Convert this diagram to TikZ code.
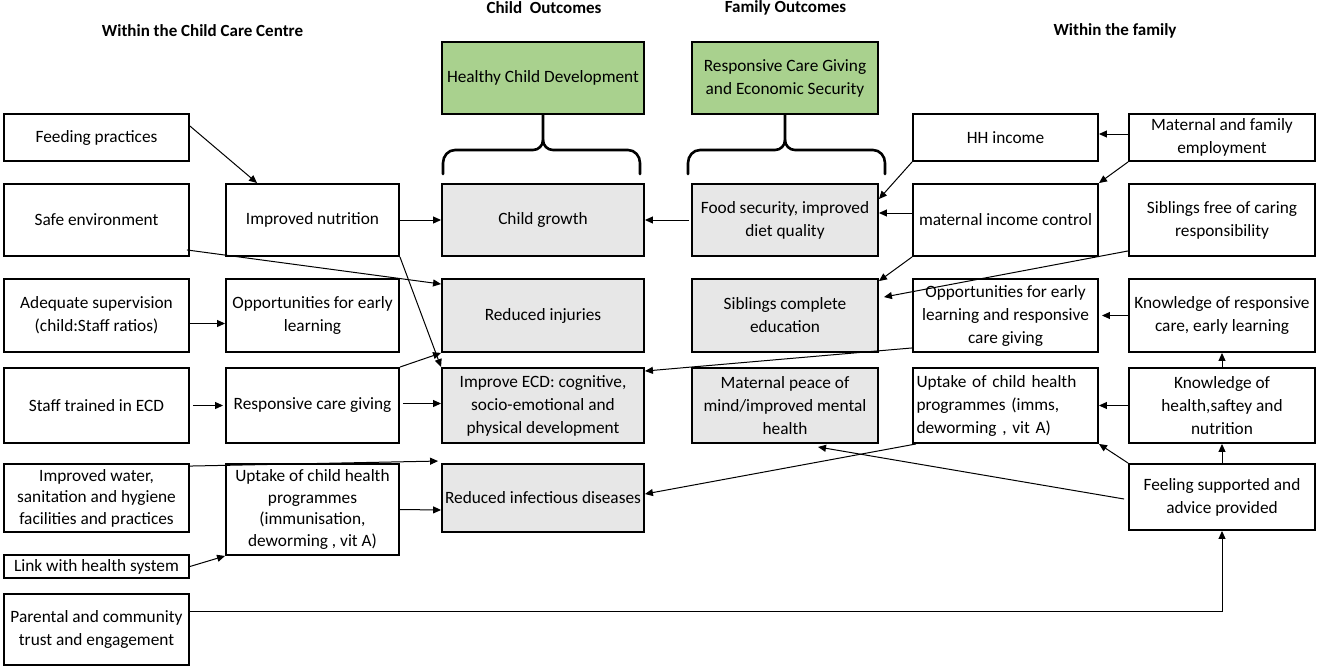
\documentclass[tikz,border=0pt]{standalone}
\usepackage{fontspec}
\setmainfont{Carlito}
\usetikzlibrary{arrows.meta,calc}
\definecolor{gfill}{RGB}{169,209,142}
\definecolor{gryfill}{RGB}{231,231,231}
\begin{document}
\begin{tikzpicture}[x=1pt,y=-1pt,
  box/.style={draw, line width=1.9pt, inner sep=1pt, align=center, font=\fontsize{17.3}{23}\selectfont},
  tight/.style={font=\fontsize{17.3}{21.5}\selectfont},
  gbox/.style={box, fill=gryfill},
  grn/.style={box, fill=gfill},
  wh/.style 2 args={minimum width=#1pt, minimum height=#2pt},
  arr/.style={-{Triangle[length=8pt,width=7pt]}, line width=1pt},
  hdr/.style={font=\bfseries\fontsize{17}{20}\selectfont},
  brc/.style={line width=2.6pt, line cap=round}]
\useasboundingbox (0,0) rectangle (1325,667);
\fill[white] (0,0) rectangle (1325,667);

% headers
\node[hdr] (h1) at (202.5,31) {Within the Child Care Centre};
\node[hdr] (h2) at (544,8) {Child\ \ Outcomes};
\node[hdr] (h3) at (785.5,8) {Family Outcomes};
\node[hdr] (h4) at (1115,31) {Within the family};

% column 1
\node[box,wh={185}{47}] (fp) at (96.5,137.5) {Feeding practices};
\node[box,wh={185}{72}] (se) at (96.5,220) {Safe environment};
\node[box,wh={185}{73}] (as) at (96.5,315.5) {Adequate supervision\\(child:Staff ratios)};
\node[box,wh={185}{75}] (st) at (96.5,405.5) {Staff trained in ECD};
\node[box,tight,wh={185}{68}] (iw) at (96.5,498) {Improved water,\\sanitation and hygiene\\facilities and practices};
\node[box,wh={185}{23}] (lk) at (96.5,566.5) {Link with health system};
\node[box,wh={185}{71}] (pc) at (96.5,629.5) {Parental and community\\trust and engagement};

% column 2
\node[box,wh={173}{72}] (nut) at (312.5,220) {Improved nutrition};
\node[box,wh={173}{73}] (ol) at (312.5,315.5) {Opportunities for early\\learning};
\node[box,wh={173}{75}] (rcg) at (312.5,405.5) {Responsive care giving};
\node[box,tight,wh={173}{91}] (up2) at (312.5,509.5) {Uptake of child health\\programmes\\(immunisation,\\deworming , vit A)};

% column 3
\node[grn,wh={202}{72}] (g1) at (543,78) {Healthy Child Development};
\node[gbox,wh={202}{72}] (cg) at (543,220) {Child growth};
\node[gbox,wh={202}{73}] (ri) at (543,315.5) {Reduced injuries};
\node[gbox,wh={202}{75}] (ecd) at (543,405.5) {Improve ECD: cognitive,\\socio-emotional and\\physical development};
\node[gbox,wh={202}{68}] (rid) at (543,498) {Reduced infectious diseases};

% column 4
\node[grn,wh={186}{72}] (g2) at (785,78) {Responsive Care Giving\\and Economic Security};
\node[gbox,wh={186}{72}] (fs) at (785,220) {Food security, improved\\diet quality};
\node[gbox,wh={186}{73}] (sce) at (785,315.5) {Siblings complete\\education};
\node[gbox,wh={186}{75}] (mp) at (785,405.5) {Maternal peace of\\mind/improved mental\\health};

% column 5
\node[box,wh={185}{47}] (hh) at (1005.5,137.5) {HH income};
\node[box,wh={185}{72}] (mic) at (1005.5,220) {maternal income control};
\node[box,wh={185}{73}] (ol5) at (1005.5,315.5) {Opportunities for early\\learning and responsive\\care giving};
\node[box,wh={185}{75},align=left,text width=178pt] (up5) at (1005.5,405.5) {Uptake of child health\\programmes (imms,\\deworming , vit A)};

% column 6
\node[box,wh={186}{47}] (me) at (1222,137.5) {Maternal and family\\employment};
\node[box,wh={186}{72}] (sf) at (1222,220) {Siblings free of caring\\responsibility};
\node[box,wh={186}{73}] (kr) at (1222,315.5) {Knowledge of responsive\\care, early learning};
\node[box,wh={186}{75}] (kh) at (1222,405.5) {Knowledge of\\health,saftey and\\nutrition};
\node[box,wh={186}{66}] (feel) at (1222,497) {Feeling supported and\\advice provided};

% braces
\draw[brc] (443,174) -- (443,163) to[out=90,in=180] (455,150) -- (533,150) to[out=0,in=-90] (543,140) -- (g1.south);
\draw[brc] (640,174) -- (640,163) to[out=90,in=0] (628,150) -- (553,150) to[out=180,in=-90] (543,140);
\draw[brc] (688,174) -- (688,163) to[out=90,in=180] (700,150) -- (775,150) to[out=0,in=-90] (785,140) -- (g2.south);
\draw[brc] (885,174) -- (885,163) to[out=90,in=0] (873,150) -- (795,150) to[out=180,in=-90] (785,140);

% left arrows
\draw[arr] ([yshift=-13pt]fp.north east) -- ([xshift=32pt]nut.north west);
\draw[arr] (nut.east) -- (cg.west);
\draw[arr] ([xshift=-3pt,yshift=7pt]se.south east) -- ([yshift=-6pt]ri.north west);
\draw[arr] (nut.south east) -- (ecd.north west);
\draw[arr] ([yshift=-8pt]as.east) -- ([yshift=-8pt]ol.west);
\draw[arr] (rcg.north east) -- (ri.south west);
\draw[arr,shorten <=3pt,shorten >=2pt] (st.east) -- (rcg.west);
\draw[arr,shorten <=3pt] ([yshift=2pt]rcg.east) -- ([yshift=2pt]ecd.west);
\draw[arr] ([yshift=-3pt]iw.north east) -- ([xshift=-3pt,yshift=2pt]rid.north west);
\draw[arr] (up2.east) -- ([yshift=-12pt]rid.west);
\draw[arr] (lk.east) -- (up2.south west);
\draw[arr] ([yshift=18pt]pc.east) -| (feel.south);

% right arrows
\draw[arr,shorten <=2pt] (fs.west) -- (cg.east);
\draw[arr] (hh.south west) -- ([yshift=-16pt]fs.north east);
\draw[arr] ([yshift=7pt]mic.west) -- ([yshift=7pt]fs.east);
\draw[arr] ([yshift=3.5pt]me.west) -- ([yshift=3.5pt]hh.east);
\draw[arr] (me.south west) -- (mic.north east);
\draw[arr] (mic.south west) -- ([yshift=-3pt]sce.north east);
\draw[arr] ([yshift=6pt]sf.south west) -- ([xshift=5pt,yshift=-19pt]sce.north east);
\draw[arr] ([yshift=5pt]ol5.south west) -- ([yshift=-4pt]ecd.north east);
\draw[arr,shorten >=3pt] (kr.west) -- (ol5.east);
\draw[arr] (kh.north) -- (kr.south);
\draw[arr] (kh.west) -- (up5.east);
\draw[arr] ([xshift=4pt]up5.south west) -- ([yshift=4pt]rid.east);
\draw[arr] (feel.north) -- (kh.south);
\draw[arr] (feel.north west) -- (up5.south east);
\draw[arr] ([xshift=-4pt,yshift=-2pt]feel.west) -- ([xshift=33pt,yshift=-3pt]mp.south);
\end{tikzpicture}
\end{document}
